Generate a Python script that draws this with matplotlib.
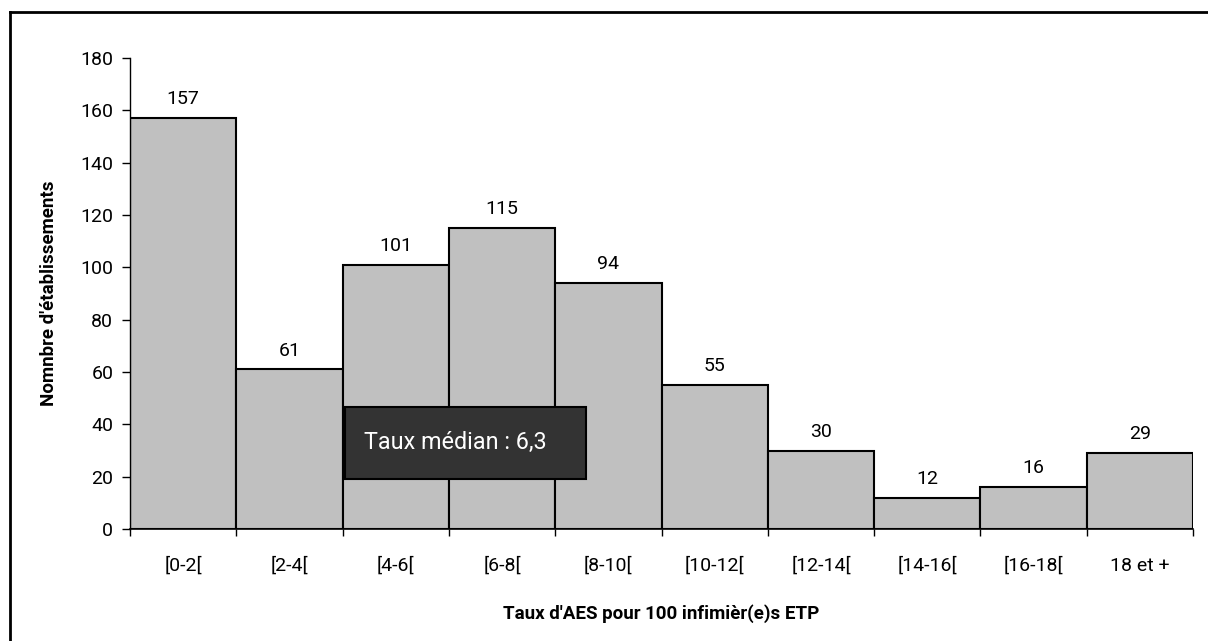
import matplotlib.pyplot as plt
from matplotlib.patches import Rectangle
from matplotlib.lines import Line2D
import numpy as np

plt.rcParams['font.family'] = ['Roboto', 'DejaVu Sans']

# données
categories = ['[0-2[', '[2-4[', '[4-6[', '[6-8[', '[8-10[',
              '[10-12[', '[12-14[', '[14-16[', '[16-18[', '18 et +']
counts = [157, 61, 101, 115, 94, 55, 30, 12, 16, 29]

fig = plt.figure(figsize=(12.08, 6.41), dpi=100)
ax = fig.add_axes([130 / 1208, 1 - 529 / 641, 1063 / 1208, 471 / 641])

x = np.arange(len(categories))
ax.bar(x, counts, width=1.0, color='#c0c0c0', edgecolor='black', linewidth=1.5)

for xi, v in zip(x, counts):
    ax.annotate(str(v), (xi, v), xytext=(0, 7), textcoords='offset points',
                ha='center', va='bottom', fontsize=14)

ax.set_xlim(-0.5, len(categories) - 0.5)
ax.set_ylim(0, 180)
ax.set_yticks(range(0, 181, 20))

ax.set_xticks(x)
ax.set_xticklabels(categories)
ax.set_xticks(np.arange(-0.5, len(categories)), minor=True)
ax.tick_params(axis='x', which='major', length=0, pad=20, labelsize=14)
ax.tick_params(axis='x', which='minor', length=5, width=1)
ax.tick_params(axis='y', length=6, width=1, pad=6, labelsize=14)

for s in ['top', 'right']:
    ax.spines[s].set_visible(False)
ax.spines['left'].set_linewidth(1)
ax.spines['bottom'].set_linewidth(1.2)

ax.set_xlabel("Taux d'AES pour 100 infimièr(e)s ETP", fontsize=13.5,
              fontweight='bold', labelpad=21)
ax.set_ylabel("Nomnbre d'établissements", fontsize=13.5,
              fontweight='bold', labelpad=16)

# encadré du taux médian
ax.add_patch(Rectangle((1.52, 19.1), 2.27, 27.5, facecolor='#333333',
                       edgecolor='black', linewidth=1.5, zorder=5))
ax.text(1.70, 33, 'Taux médian : 6,3', color='white', fontsize=16.8,
        va='center', ha='left', zorder=6)

# cadre extérieur (bords gauche et haut)
fig.add_artist(Line2D([10 / 1208, 10 / 1208], [0, 1 - 12 / 641],
                      transform=fig.transFigure, color='black', linewidth=2))
fig.add_artist(Line2D([10 / 1208, 1], [1 - 12 / 641, 1 - 12 / 641],
                      transform=fig.transFigure, color='black', linewidth=2))

fig.savefig('out.png', dpi=100)
